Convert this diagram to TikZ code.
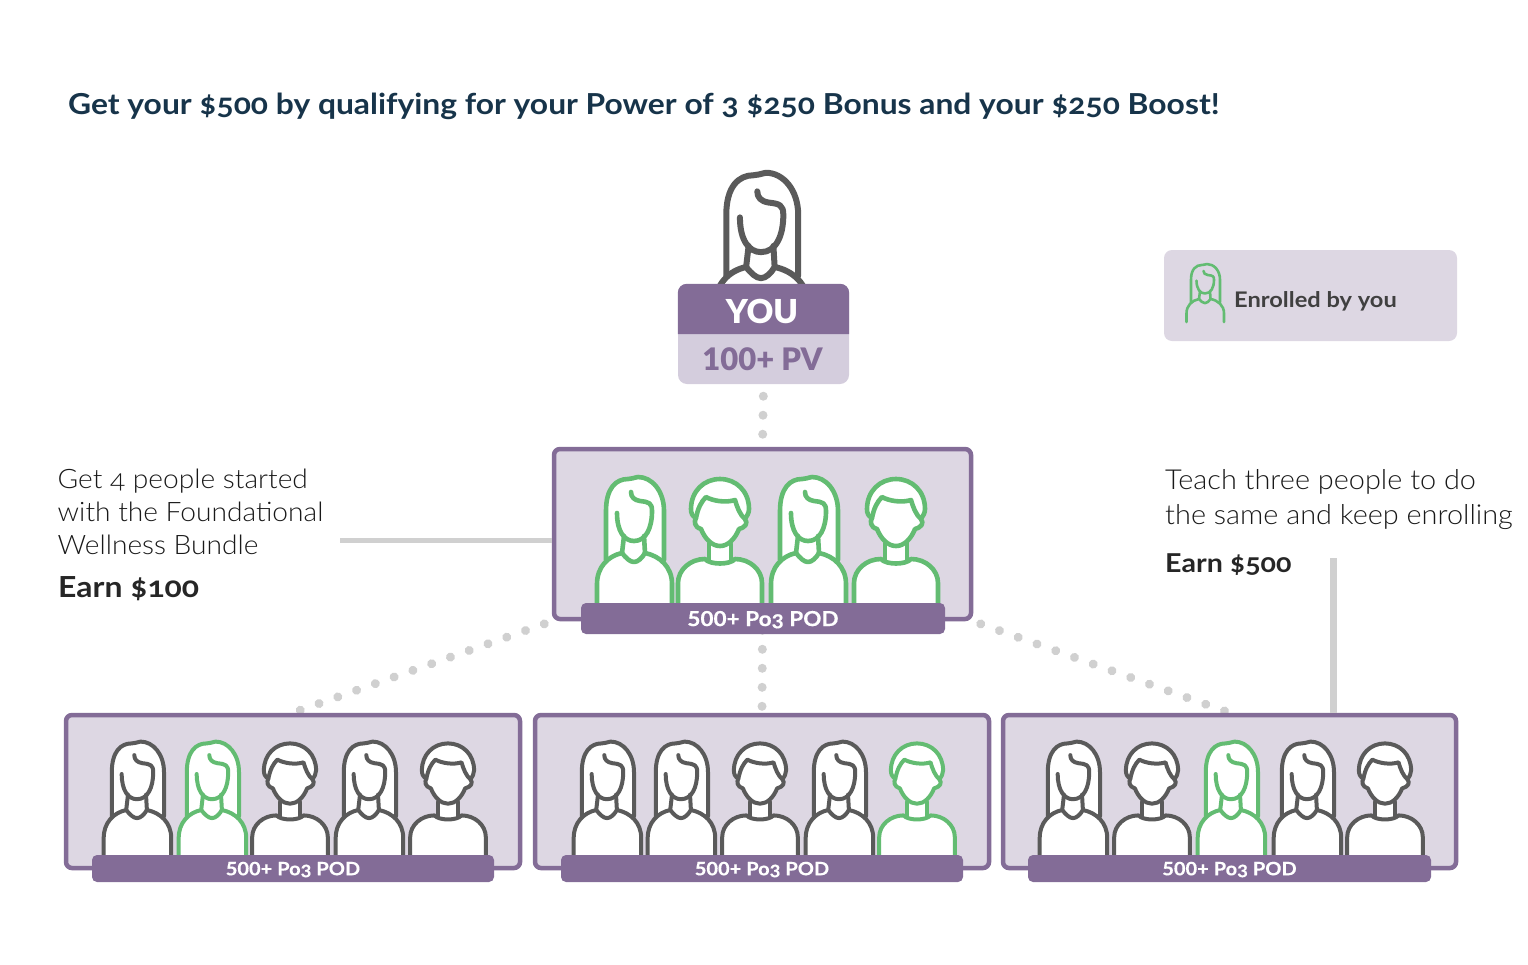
\documentclass[tikz,border=0pt]{standalone}
\usepackage{fontspec}
\setmainfont{Lato}[Numbers=OldStyle,FakeStretch=1.1]
\newfontfamily\lightfont{Lato Light}[Numbers=OldStyle,FakeStretch=1.05]
\newfontfamily\blackfont{Lato Black}[Numbers=Lining]
\newfontfamily\barfont{Lato}[Numbers=Lining,FakeStretch=1.09,BoldFeatures={FakeBold=0.4}]
\usepackage{xcolor}
\usetikzlibrary{backgrounds}
\definecolor{podpurple}{HTML}{836C97}
\definecolor{podlilac}{HTML}{DDD7E3}
\definecolor{pvlilac}{HTML}{D4CDDD}
\definecolor{linkgray}{HTML}{D0D0D0}
\definecolor{persongray}{HTML}{5A5A5A}
\definecolor{persongreen}{HTML}{63BC72}
\definecolor{titleblue}{HTML}{17344A}
\newcommand{\podname}{\barfont\bfseries 500+ Po{\addfontfeature{Numbers=OldStyle}3} POD}
\tikzset{
  woman/.pic={
    \path[pic actions,draw=none] (-28,-43) -- (-28,-92) .. controls (-28,-115) and (-18,-124) .. (-6,-124) .. controls (-3,-124) and (-1,-125) .. (4,-126) .. controls (18,-126) and (30,-112) .. (30,-92) -- (30,-43) -- cycle;
    \path[pic actions,fill=none] (-28,-43) -- (-28,-92) .. controls (-28,-115) and (-18,-124) .. (-6,-124) .. controls (-3,-124) and (-1,-125) .. (4,-126) .. controls (18,-126) and (30,-112) .. (30,-92) -- (30,-43);
    \path[pic actions] (-37,0) -- (-37,-19) .. controls (-37,-36) and (-26,-47) .. (-12,-50) .. controls (-8,-45) and (-4,-41) .. (0,-41) .. controls (4,-41) and (8,-45) .. (11,-50) .. controls (26,-47) and (38,-36) .. (38,-19) -- (38,0);
    \path[pic actions,fill=none] (-17,-90) .. controls (-17,-72) and (-10,-62) .. (0,-62) .. controls (12,-62) and (18,-75) .. (18,-92) .. controls (18,-100) and (15,-101) .. (6,-102) .. controls (0,-103) and (-3,-106) .. (-3,-111);
    \path[pic actions,fill=none] (-10,-67) -- (-12,-50) (10,-67) -- (11,-50);
  },
  man/.pic={
    \path[pic actions,draw=none] (-10,-60) rectangle (10,-40);
    \path[pic actions] (-42,0) -- (-42,-20) .. controls (-42,-33) and (-30,-44) .. (-15,-44) .. controls (-10,-38) and (10,-38) .. (15,-44) .. controls (30,-44) and (42,-33) .. (42,-20) -- (42,0);
    \path[pic actions,fill=none] (-11,-59) -- (-11,-43) (11,-59) -- (11,-43);
    \path[pic actions] (-19,-74) .. controls (-26,-76) and (-26,-82) .. (-24,-85) .. controls (-28,-87) and (-29,-90) .. (-29,-94) .. controls (-29,-112) and (-16,-124) .. (0,-124) .. controls (16,-124) and (29,-112) .. (29,-94) .. controls (29,-90) and (27,-87) .. (25,-84) .. controls (28,-80) and (26,-76) .. (19,-74) .. controls (15,-64) and (8,-57) .. (0,-57) .. controls (-8,-57) and (-15,-64) .. (-19,-74) -- cycle;
    \path[pic actions,fill=none] (-24,-85) .. controls (-22,-95) and (-19,-101) .. (-14,-106) .. controls (-7,-102) and (6,-100) .. (15,-103) .. controls (17,-96) and (20,-88) .. (25,-84);
  },
  graylook/.style={draw=persongray,fill=white,line cap=round,line join=round},
  greenlook/.style={draw=persongreen,fill=white,line cap=round,line join=round},
  podbox/.style={draw=podpurple,fill=podlilac,line width=4.5pt,rounded corners=6pt,inner sep=0pt},
  podbar/.style={fill=podpurple,rounded corners=5pt,text=white,inner sep=0pt},
  dotlink/.style={draw=linkgray,line width=9pt,line cap=round,dash pattern=on 0.01pt off #1},
  dotlink/.default=19pt,
  solidlink/.style={draw=linkgray,line cap=butt},
  sidetext/.style={anchor=north west,align=left,inner sep=0pt,text=black!90},
}
\begin{document}
\begin{tikzpicture}[x=1pt,y=-1pt]
  \useasboundingbox (0,0) rectangle (1528,964);

  % title
  \node[anchor=base west,inner sep=0pt,text=titleblue,font=\fontsize{28.9}{32}\selectfont\bfseries] (title) at (68,114) {Get your \$500 by qualifying for your Power of 3 \$250 Bonus and your \$250 Boost!};

  % you
  \pic[graylook,line width=6pt,scale=1.24] at (761,329) {woman};
  \node[fill=pvlilac,rounded corners=9pt,minimum width=171pt,minimum height=100pt,inner sep=0pt] (youbox) at (763.5,334) {};
  \fill[podpurple] (youbox.west) [rounded corners=9pt] -- (youbox.north west) -- (youbox.north east) [sharp corners] -- (youbox.east) -- cycle;
  \node[text=white,font=\fontsize{33}{36}\selectfont\blackfont] (youlabel) at (762,311) {YOU};
  \node[text=podpurple,font=\fontsize{31}{34}\selectfont\blackfont] (pvlabel) at (762.5,359) {100+ PV};

  % pods
  \node[podbox,minimum width=417pt,minimum height=170pt] (pod) at (762.5,534) {};
  \foreach \px/\pkind/\plook in {634/woman/greenlook,720/man/greenlook,808/woman/greenlook,896/man/greenlook}
    \pic[\plook,line width=4.6pt] at (\px,603) {\pkind};
  \node[podbar,minimum width=364pt,minimum height=31pt,text depth=0pt,font=\fontsize{20.7}{24}\selectfont] (podbar) at (763,618.5) {\podname};

  \node[podbox,minimum width=454pt,minimum height=153pt] (podleft) at (293,791.5) {};
  \foreach \px/\pkind/\plook in {137/woman/graylook,212/woman/greenlook,290/man/graylook,369/woman/graylook,448/man/graylook}
    \pic[\plook,line width=4pt,scale=.9] at (\px,855) {\pkind};
  \node[podbar,minimum width=402pt,minimum height=27pt,text depth=0pt,font=\fontsize{18.4}{22}\selectfont] (barleft) at (293,868.5) {\podname};

  \node[podbox,minimum width=454pt,minimum height=153pt] (podmid) at (762,791.5) {};
  \foreach \px/\pkind/\plook in {607/woman/graylook,681/woman/graylook,760/man/graylook,839/woman/graylook,917/man/greenlook}
    \pic[\plook,line width=4pt,scale=.9] at (\px,855) {\pkind};
  \node[podbar,minimum width=402pt,minimum height=27pt,text depth=0pt,font=\fontsize{18.4}{22}\selectfont] (barmid) at (762,868.5) {\podname};

  \node[podbox,minimum width=453pt,minimum height=153pt] (podright) at (1229.5,791.5) {};
  \foreach \px/\pkind/\plook in {1073/woman/graylook,1152/man/graylook,1231/woman/greenlook,1307/woman/graylook,1385/man/graylook}
    \pic[\plook,line width=4pt,scale=.9] at (\px,855) {\pkind};
  \node[podbar,minimum width=403pt,minimum height=27pt,text depth=0pt,font=\fontsize{18.4}{22}\selectfont] (barright) at (1229.5,868.5) {\podname};

  % links
  \begin{pgfonlayer}{background}
    \draw[dotlink,dash phase=7pt] (youbox.south) -- (pod.north);
    \draw[dotlink,dash phase=10pt] (pod.south) -- (podmid.north);
    \draw[dotlink=19.9pt,dash phase=12pt] (pod.south west) -- (podleft.north);
    \draw[dotlink=19.9pt,dash phase=12pt] (pod.south east) -- (podright.north);
  \end{pgfonlayer}

  % side notes
  \node[sidetext,font=\lightfont\fontsize{26.8}{33}\selectfont] (leftnote) at (57.5,469) {Get 4 people started\\with the Foundational\\Wellness Bundle};
  \node[anchor=base west,inner sep=0pt,text=black!85,font=\fontsize{29}{32}\selectfont\bfseries] (leftearn) at (58,597) {Earn \$100};
  \coordinate (leftend) at (340,540);
  \draw[solidlink,line width=5pt] (leftend) -- (leftend -| pod.west);

  \node[sidetext,font=\lightfont\fontsize{27.5}{35}\selectfont] (rightnote) at (1165,469) {Teach three people to do\\the same and keep enrolling};
  \node[anchor=base west,inner sep=0pt,text=black!85,font=\fontsize{26}{30}\selectfont\bfseries] (rightearn) at (1165,572) {Earn \$500};
  \coordinate (rightend) at (1333,558);
  \draw[solidlink,line width=7pt] (rightend) -- (rightend |- podright.north);

  % legend
  \node[fill=podlilac,rounded corners=8pt,minimum width=293pt,minimum height=91pt,inner sep=0pt] (legend) at (1310.5,295.5) {};
  \pic[draw=persongreen,line cap=round,line join=round,line width=2.6pt,xscale=.5,yscale=.46] at (1205,322) {woman};
  \node[anchor=base west,inner sep=0pt,text=black!75,font=\fontsize{21.5}{24}\selectfont\bfseries] (legendlabel) at (1234,307) {Enrolled by you};
\end{tikzpicture}
\end{document}
